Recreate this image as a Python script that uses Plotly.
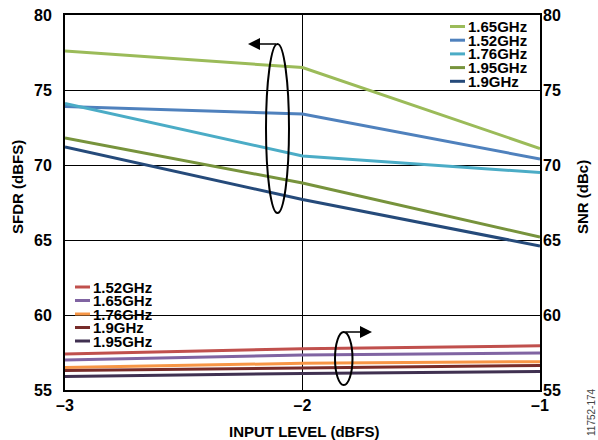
import plotly.graph_objects as go

# ---------------- data ----------------
input_level = [-3, -2, -1]

sfdr_names = ["1.65GHz", "1.52GHz", "1.76GHz", "1.95GHz", "1.9GHz"]
sfdr_colors = ["#9BBB59", "#4F81BD", "#4BACC6", "#77933C", "#254A7A"]
sfdr_165 = [77.6, 76.5, 71.1]
sfdr_152 = [73.9, 73.4, 70.4]
sfdr_176 = [74.1, 70.6, 69.5]
sfdr_195 = [71.8, 68.8, 65.2]
sfdr_190 = [71.2, 67.7, 64.6]
sfdr_values = [sfdr_165, sfdr_152, sfdr_176, sfdr_195, sfdr_190]

snr_names = ["1.52GHz", "1.65GHz", "1.76GHz", "1.9GHz", "1.95GHz"]
snr_colors = ["#C0504D", "#8064A2", "#F79646", "#772C2A", "#403151"]
snr_152 = [57.4, 57.75, 57.95]
snr_165 = [57.0, 57.33, 57.47]
snr_176 = [56.5, 56.78, 56.89]
snr_190 = [56.3, 56.47, 56.64]
snr_195 = [55.9, 56.1, 56.24]
snr_values = [snr_152, snr_165, snr_176, snr_190, snr_195]

x_ticks = [-3, -2, -1]
x_ticktext = ["\u20133", "\u20132", "\u20131"]
y_ticks = [55, 60, 65, 70, 75, 80]

# ---------------- layout helpers ----------------
W, H = 598, 440
L, R, T, B = 65, 540, 15, 390
FONT = "Liberation Sans, Arial, sans-serif"


def xp(px):
    return (px - L) / (R - L)


def yp(py):
    return (B - py) / (B - T)


fig = go.Figure()

for name, col, vals in zip(sfdr_names, sfdr_colors, sfdr_values):
    fig.add_trace(go.Scatter(x=input_level, y=vals, mode="lines", name=name,
                             line=dict(color=col, width=3), yaxis="y",
                             showlegend=False))

for name, col, vals in zip(snr_names, snr_colors, snr_values):
    fig.add_trace(go.Scatter(x=input_level, y=vals, mode="lines", name=name,
                             line=dict(color=col, width=3), yaxis="y2",
                             showlegend=False))

shapes = []
annotations = []

# white box hiding gridline behind lower legend
shapes.append(dict(type="rect", xref="paper", yref="paper", layer="below",
                   x0=xp(L + 1), x1=xp(164), y0=yp(348), y1=yp(280),
                   fillcolor="white", line=dict(width=0)))

leg_font = dict(family=FONT, size=15, color="black", weight="bold")

# custom legends
top_y = [26.5, 40.2, 53.9, 67.6, 81.3]
for name, col, py in zip(sfdr_names, sfdr_colors, top_y):
    shapes.append(dict(type="line", xref="paper", yref="paper",
                       x0=xp(450), x1=xp(465), y0=yp(py), y1=yp(py),
                       line=dict(color=col, width=3)))
    annotations.append(dict(x=xp(467), y=yp(py), xref="paper", yref="paper",
                            text=name, showarrow=False, xanchor="left",
                            yanchor="middle", height=13, borderpad=0,
                            font=leg_font))

bot_y = [287, 300.5, 314, 327.5, 341]
for name, col, py in zip(snr_names, snr_colors, bot_y):
    shapes.append(dict(type="line", xref="paper", yref="paper",
                       x0=xp(75), x1=xp(90), y0=yp(py), y1=yp(py),
                       line=dict(color=col, width=3)))
    annotations.append(dict(x=xp(92), y=yp(py), xref="paper", yref="paper",
                            text=name, showarrow=False, xanchor="left",
                            yanchor="middle", height=13, borderpad=0,
                            font=leg_font))

# ellipses with arrows
shapes.append(dict(type="circle", xref="paper", yref="paper",
                   x0=xp(266), x1=xp(289), y0=yp(213), y1=yp(44),
                   line=dict(color="black", width=2)))
annotations.append(dict(x=xp(248), y=yp(44), ax=29.5, ay=0,
                        xref="paper", yref="paper",
                        text="", showarrow=True, arrowhead=2, arrowsize=1.6,
                        arrowwidth=1.5, arrowcolor="black"))
shapes.append(dict(type="circle", xref="paper", yref="paper",
                   x0=xp(335), x1=xp(352.5), y0=yp(385), y1=yp(332),
                   line=dict(color="black", width=2)))
annotations.append(dict(x=xp(372), y=yp(332), ax=-28, ay=0,
                        xref="paper", yref="paper",
                        text="", showarrow=True, arrowhead=2, arrowsize=1.6,
                        arrowwidth=1.5, arrowcolor="black"))

# axis titles
title_font = dict(family=FONT, size=15, color="black", weight="bold")
annotations.append(dict(x=xp(17), y=yp(187), xref="paper", yref="paper",
                        text="SFDR (dBFS)", textangle=-90, showarrow=False,
                        xanchor="center", yanchor="middle", font=title_font))
annotations.append(dict(x=xp(583), y=yp(197), xref="paper", yref="paper",
                        text="SNR (dBc)", textangle=-90, showarrow=False,
                        xanchor="center", yanchor="middle", font=title_font))
annotations.append(dict(x=xp(304), y=yp(431), xref="paper", yref="paper",
                        text="INPUT LEVEL (dBFS)", showarrow=False,
                        xanchor="center", yanchor="middle",
                        font=dict(family=FONT, size=15, color="black",
                                  weight="bold")))
annotations.append(dict(x=xp(591), y=yp(412), xref="paper", yref="paper",
                        text="11752-174", textangle=-90, showarrow=False,
                        xanchor="center", yanchor="middle",
                        font=dict(family=FONT, size=10, color="#444444")))

tick_font = dict(family=FONT, size=16, color="black", weight="bold")

fig.update_layout(
    width=W, height=H,
    margin=dict(l=L, r=W - R, t=T, b=H - B, pad=0, autoexpand=False),
    paper_bgcolor="white", plot_bgcolor="white",
    showlegend=False,
    shapes=shapes, annotations=annotations,
    xaxis=dict(range=[-3, -1], tickvals=x_ticks, ticktext=x_ticktext,
               showgrid=True, gridcolor="black", gridwidth=1,
               showline=True, linecolor="black", linewidth=2, mirror=True,
               ticks="", tickfont=tick_font, zeroline=False, automargin=False),
    yaxis=dict(range=[55, 80], tickvals=y_ticks,
               showgrid=True, gridcolor="black", gridwidth=1,
               showline=True, linecolor="black", linewidth=2, mirror=True,
               ticks="", tickfont=tick_font, zeroline=False, automargin=False,
               ticklabelstandoff=8),
    yaxis2=dict(range=[55, 80], tickvals=y_ticks, overlaying="y", side="right",
                showgrid=False, showline=False, ticks="", tickfont=tick_font,
                zeroline=False, automargin=False, ticklabelstandoff=2),
)

fig.write_html(
    "out.html",
    config={"displayModeBar": False},
    post_script="document.body.style.margin='0px';"
                "document.body.style.overflow='hidden';",
)
